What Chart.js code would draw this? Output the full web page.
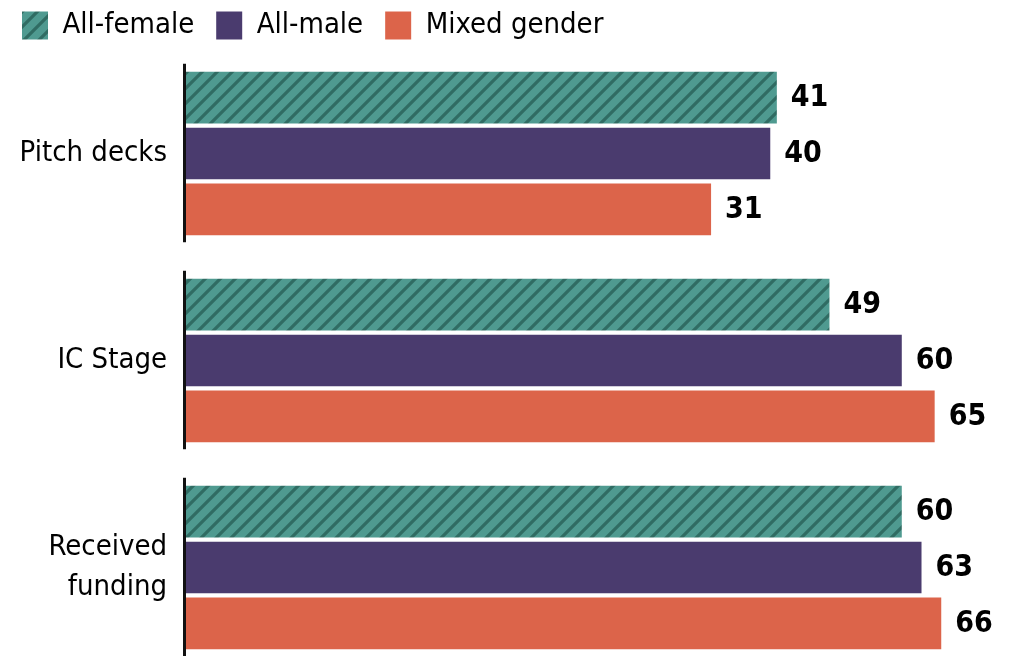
<!DOCTYPE html>
<html>
<head>
<meta charset="utf-8">
<script src="https://cdn.jsdelivr.net/npm/chart.js@4"></script>
<style>
  html, body { margin: 0; padding: 0; background: #fff; overflow: hidden; }
  /* the plot runs past the bottom edge, and the legend sits tight to the top */
  #chart { display: block; margin-top: -11px; }
</style>
</head>
<body>
<canvas id="chart" width="1011" height="682"></canvas>
<script>
const categories = ["Pitch decks", "IC Stage", ["Received", "funding"]];
const seriesNames = ["All-female", "All-male", "Mixed gender"];
const allFemale = [41, 49, 60];
const allMale = [40, 60, 63];
const mixedGender = [31, 65, 66];
const axisMin = -49;
const axisMax = 76;

const FONT = "'Liberation Sans Narrow', 'DejaVu Sans Condensed', 'Arial Narrow', sans-serif";

// diagonal hatch used for the all-female bars
function hatch(base, stripe) {
  const size = 15;
  const c = document.createElement("canvas");
  c.width = size;
  c.height = size;
  const g = c.getContext("2d");
  g.fillStyle = base;
  g.fillRect(0, 0, size, size);
  g.strokeStyle = stripe;
  g.lineWidth = 3.2;
  g.beginPath();
  g.moveTo(-2, size + 2);
  g.lineTo(size + 2, -2);
  g.moveTo(-4, 4);
  g.lineTo(4, -4);
  g.moveTo(size - 4, size + 4);
  g.lineTo(size + 4, size - 4);
  g.stroke();
  return g.createPattern(c, "repeat");
}

const femaleFill = hatch("#4f9a90", "#306c63");

// short axis stub beside each group of bars
const groupAxis = {
  id: "groupAxis",
  afterDatasetsDraw(chart) {
    const ctx = chart.ctx;
    const first = chart.getDatasetMeta(0).data;
    const last = chart.getDatasetMeta(chart.data.datasets.length - 1).data;
    const x = chart.chartArea.left;
    ctx.save();
    ctx.fillStyle = "#111";
    first.forEach((bar, i) => {
      const top = bar.y - bar.height / 2 - 8;
      const bottom = last[i].y + last[i].height / 2 + 7;
      ctx.fillRect(x - 2, top, 3, bottom - top);
    });
    ctx.restore();
  }
};

// value printed to the right of each bar
const barValues = {
  id: "barValues",
  afterDatasetsDraw(chart) {
    const ctx = chart.ctx;
    ctx.save();
    ctx.font = "bold 30px " + FONT;
    ctx.fillStyle = "#000";
    ctx.textAlign = "left";
    ctx.textBaseline = "middle";
    chart.data.datasets.forEach((ds, di) => {
      chart.getDatasetMeta(di).data.forEach((bar, i) => {
        ctx.fillText(String(ds.data[i]), bar.x + 14, bar.y + 1);
      });
    });
    ctx.restore();
  }
};

const barStyle = {
  base: axisMin,
  categoryPercentage: 0.81,
  barPercentage: 0.925,
  borderWidth: 0
};

new Chart(document.getElementById("chart"), {
  type: "bar",
  data: {
    labels: categories,
    datasets: [
      { label: seriesNames[0], data: allFemale, backgroundColor: femaleFill, ...barStyle },
      { label: seriesNames[1], data: allMale, backgroundColor: "#4a3b6e", ...barStyle },
      { label: seriesNames[2], data: mixedGender, backgroundColor: "#dc644a", ...barStyle }
    ]
  },
  options: {
    indexAxis: "y",
    responsive: false,
    animation: false,
    layout: { padding: { top: 0, left: 0, right: 4, bottom: 0 } },
    plugins: {
      legend: {
        position: "top",
        align: "start",
        labels: {
          boxWidth: 26,
          boxHeight: 28,
          padding: 22,
          color: "#000",
          font: { family: FONT, size: 29 }
        }
      },
      tooltip: { enabled: false }
    },
    scales: {
      x: {
        display: false,
        min: axisMin,
        max: axisMax
      },
      y: {
        afterFit(scale) {
          scale.width = 185;
          // labels are centred on their groups, so no overhang room is needed
          scale.paddingTop = 0;
          scale.paddingBottom = 0;
        },
        grid: { display: false },
        border: { display: false },
        ticks: {
          padding: 10,
          color: "#000",
          font: { family: FONT, size: 29, lineHeight: 1.35 }
        }
      }
    }
  },
  plugins: [groupAxis, barValues]
});
</script>
</body>
</html>
